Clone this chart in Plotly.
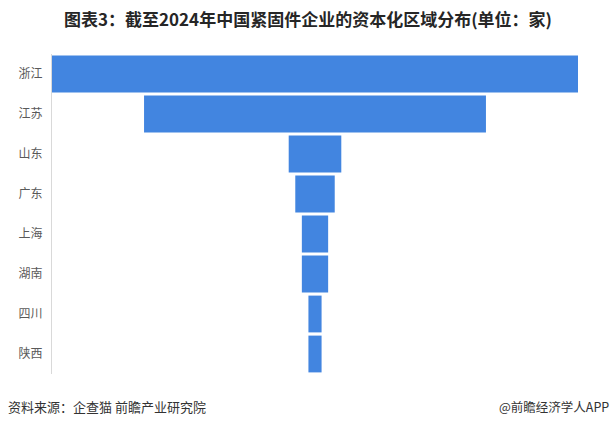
import plotly.graph_objects as go

# 截至2024年中国紧固件企业的资本化区域分布（单位：家）
regions = ["浙江", "江苏", "山东", "广东", "上海", "湖南", "四川", "陕西"]
counts = [40, 26, 4, 3, 2, 2, 1, 1]

BLUE = "#4285E0"
FONT = "Noto Sans CJK SC"

fig = go.Figure(go.Funnel(
    y=regions, x=counts,
    textinfo="none",
    marker=dict(color=BLUE, line=dict(width=0)),
    connector=dict(visible=False),
    hoverinfo="y+x",
))

fig.update_layout(
    width=616, height=429,
    paper_bgcolor="white", plot_bgcolor="white",
    margin=dict(l=52, r=38, t=54, b=55),
    funnelgap=0.08,
    showlegend=False,
    font=dict(family=FONT, size=12, color="#595959"),
    title=dict(text="<b>图表3：截至2024年中国紧固件企业的资本化区域分布(单位：家)</b>",
               x=0.5, xanchor="center", y=0.953, yanchor="middle",
               font=dict(family=FONT, size=17, color="#262626")),
)
fig.update_xaxes(visible=False, range=[-max(counts) / 2, max(counts) / 2],
                 automargin=False)
fig.update_yaxes(showline=True, linecolor="#d9d9d9", linewidth=1,
                 ticks="", ticklabelstandoff=6, showgrid=False, automargin=False,
                 tickfont=dict(family=FONT, size=12, color="#595959"))

fig.add_annotation(text="资料来源：企查猫 前瞻产业研究院", xref="paper", yref="paper",
                   x=-46 / 526, y=-0.103, xanchor="left", yanchor="middle",
                   showarrow=False, font=dict(family=FONT, size=13, color="#333333"))
fig.add_annotation(text="@前瞻经济学人APP", xref="paper", yref="paper",
                   x=1 + 33 / 526, y=-0.103, xanchor="right", yanchor="middle",
                   showarrow=False, font=dict(family=FONT, size=12.5, color="#333333"))

# 去掉页面默认边距，使图表贴齐窗口
fig.write_html("out.html", config={"displayModeBar": False},
               post_script="document.body.style.margin='0';")
